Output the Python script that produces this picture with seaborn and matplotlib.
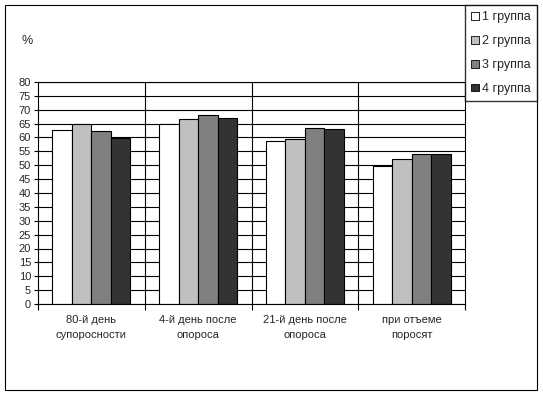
import matplotlib
matplotlib.use("Agg")
import matplotlib.pyplot as plt
import matplotlib.patches as mpatches
import pandas as pd
import seaborn as sns

categories = ["80-й день\nсупоросности", "4-й день после\nопороса",
              "21-й день после\nопороса", "при отъеме\nпоросят"]
groups = ["1 группа", "2 группа", "3 группа", "4 группа"]
g1 = [62.8, 65.0, 58.6, 49.9]
g2 = [64.7, 66.8, 59.3, 52.1]
g3 = [62.4, 68.2, 63.6, 54.1]
g4 = [59.9, 67.1, 63.2, 54.1]
colors = ["#FFFFFF", "#C0C0C0", "#808080", "#333333"]

rows = []
for grp, vals in zip(groups, [g1, g2, g3, g4]):
    for cat, v in zip(categories, vals):
        rows.append({"cat": cat, "group": grp, "value": v})
df = pd.DataFrame(rows)

sns.set_style("white")
plt.rcParams['font.family'] = ['Liberation Sans', 'DejaVu Sans']

fig = plt.figure(figsize=(5.43, 3.96), dpi=100)
ax = fig.add_axes([38/543, 1-304/396, (465-38)/543, (304-82)/396])

sns.barplot(data=df, x="cat", y="value", hue="group", palette=colors,
            order=categories, hue_order=groups, width=0.73, gap=0,
            edgecolor="black", linewidth=0.8, saturation=1, legend=False, ax=ax)

ax.set_ylim(0, 80)
ax.set_xlim(-0.5, 3.5)
ax.set_yticks(range(0, 81, 5))
ax.set_axisbelow(True)
ax.yaxis.grid(True, color="black", linewidth=0.8)
for xb in [0.5, 1.5, 2.5]:
    ax.axvline(xb, color="black", linewidth=0.8, zorder=0.5)
for s in ax.spines.values():
    s.set_color("black")
    s.set_linewidth(0.8)

ax.set_xlabel("")
ax.set_ylabel("")
ax.tick_params(axis="y", length=3, width=0.8, color="black", labelsize=8, pad=2, left=True)
ax.tick_params(axis="x", length=0, labelsize=8, pad=8)
for lbl in ax.get_xticklabels():
    lbl.set_linespacing(1.6)
ax.set_xticks([-0.5, 0.5, 1.5, 2.5, 3.5], minor=True)
ax.tick_params(axis="x", which="minor", length=4, width=0.8, color="black", bottom=True)

fig.text(27/543, 1-41/396, "%", fontsize=9, ha="center", va="center")

handles = [mpatches.Patch(facecolor=c, edgecolor="black", linewidth=0.6, label=g)
           for c, g in zip(colors, groups)]
leg = fig.legend(handles=handles, loc="upper right", bbox_to_anchor=(537/543, 1-5/396),
                 fontsize=9, frameon=True, fancybox=False, shadow=False,
                 handlelength=0.6, handleheight=0.6, handletextpad=0.25,
                 labelspacing=0.95, borderpad=0.5, borderaxespad=0)
leg.get_frame().set_edgecolor("black")
leg.get_frame().set_linewidth(1.0)

fig.patches.append(mpatches.Rectangle((5/543, 1-390/396), (537-5)/543, (390-5)/396,
                                      transform=fig.transFigure, fill=False,
                                      edgecolor="black", linewidth=0.8, zorder=0))

fig.savefig("out.png", dpi=100)
